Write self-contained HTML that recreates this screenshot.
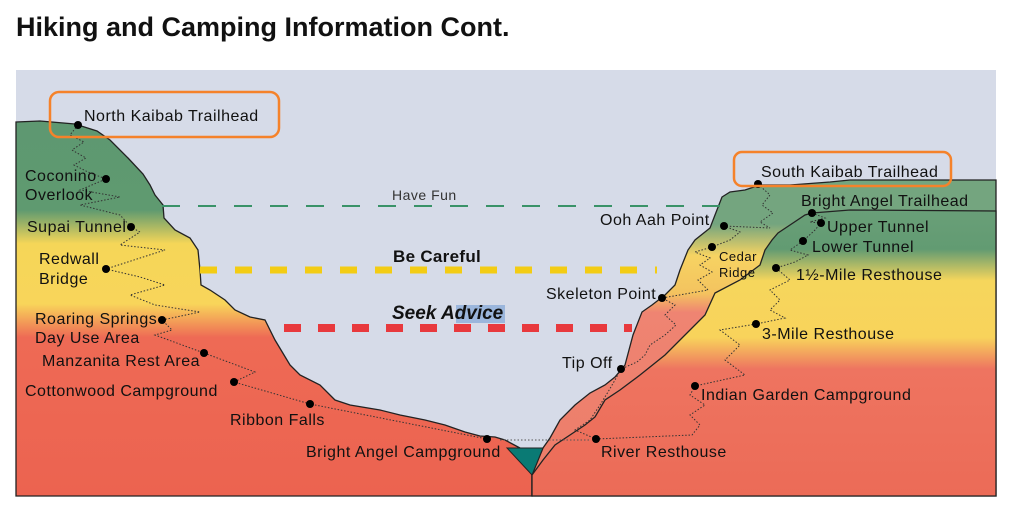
<!DOCTYPE html>
<html><head><meta charset="utf-8"><style>
body{margin:0;background:#fff;width:1024px;height:508px;overflow:hidden}
svg{display:block}
text{font-family:"Liberation Sans","DejaVu Sans",sans-serif;fill:#111;font-size:16px;letter-spacing:0.5px}
</style></head><body>
<svg width="1024" height="508" viewBox="0 0 1024 508">
<defs>
<linearGradient id="gl" gradientUnits="userSpaceOnUse" x1="0" y1="120" x2="0" y2="495">
<stop offset="0" stop-color="#5e9871"/>
<stop offset="0.24" stop-color="#5f9a70"/>
<stop offset="0.33" stop-color="#f5d658"/>
<stop offset="0.49" stop-color="#f8d55a"/>
<stop offset="0.58" stop-color="#ee6a55"/>
<stop offset="1" stop-color="#ec6350"/>
</linearGradient>
<linearGradient id="gr" gradientUnits="userSpaceOnUse" x1="0" y1="180" x2="0" y2="495">
<stop offset="0" stop-color="#6fa27d"/>
<stop offset="0.22" stop-color="#629b72"/>
<stop offset="0.32" stop-color="#f6d65c"/>
<stop offset="0.5" stop-color="#f8d35b"/>
<stop offset="0.6" stop-color="#ee7460"/>
<stop offset="1" stop-color="#ec6b57"/>
</linearGradient>
<linearGradient id="gm" gradientUnits="userSpaceOnUse" x1="0" y1="180" x2="0" y2="495">
<stop offset="0" stop-color="#74a57f"/>
<stop offset="0.14" stop-color="#74a57f"/>
<stop offset="0.24" stop-color="#f6d362"/>
<stop offset="0.36" stop-color="#f4c35f"/>
<stop offset="0.42" stop-color="#ef8472"/>
<stop offset="1" stop-color="#ec7c68"/>
</linearGradient>
</defs>
<text x="16" y="36" style="font-size:27px;font-weight:bold;letter-spacing:0">Hiking and Camping Information Cont.</text>
<rect x="16" y="70" width="980" height="426" fill="#d6dbe8"/>
<path d="M16,122 L40,121 75,124 97,131 110,140 128,158 143,174 150,185 155,195 163,205 164,218 175,230 190,238 198,250 200,270 201,285 210,290 225,300 235,310 250,317 265,320 275,340 290,365 300,375 320,385 335,400 350,405 380,410 400,415 425,420 445,425 465,432 480,436 495,437 505,440 520,448 532,475 532,496 16,496Z" fill="url(#gl)" stroke="#222" stroke-width="1.3"/>
<path d="M532,475 L543,448 550,438 560,420 575,405 590,393 605,385 615,377 625,365 633,335 642,312 652,305 665,295 675,285 680,270 688,250 695,240 710,228 715,215 722,197 730,192 745,190 760,185 790,185 830,182 850,180 996,180 996,496 532,496Z" fill="url(#gm)" stroke="#222" stroke-width="1.3"/>
<path d="M532,475 L543,460 555,445 570,435 585,425 595,417 605,400 620,390 640,375 665,355 690,330 705,315 715,293 740,280 760,265 765,250 772,240 778,233 790,225 805,215 812,213 850,210 996,211 996,496 532,496Z" fill="url(#gr)" stroke="#222" stroke-width="1.3"/>
<path d="M507,448 L543,448 532,475Z" fill="#0a7a74" stroke="#222" stroke-width="1"/>
<line x1="500" y1="440" x2="590" y2="440" stroke="#555" stroke-width="1" stroke-dasharray="1.5,2"/>
<line x1="162" y1="206" x2="720" y2="206" stroke="#3a9268" stroke-width="2" stroke-dasharray="18,18"/>
<line x1="200" y1="270" x2="657" y2="270" stroke="#f3cc14" stroke-width="7" stroke-dasharray="17,18"/>
<line x1="284" y1="328" x2="632" y2="328" stroke="#e8393d" stroke-width="8" stroke-dasharray="17,17"/>
<g fill="none" stroke="#333" stroke-width="1" stroke-dasharray="1.5,1.8">
<polyline points="78,125 70,135 84,142 72,150 86,158 74,165 88,172 106,179 80,190 120,197 80,205 120,215 131,227 140,232 120,245 165,250 106,269 140,277 165,285 130,295 155,305 200,312 162,320 172,330 155,335 204,353 255,372 234,382 310,404 487,439"/>
<polyline points="758,184 770,195 762,205 773,213 760,222 770,228 724,226 740,232 730,240 712,247 695,252 710,258 700,265 712,272 698,280 708,290 662,298 675,305 665,315 676,325 665,335 650,345 645,355 637,362 621,369 615,380 608,392 600,405 590,420 575,430 596,439"/>
<polyline points="812,213 825,218 810,222 821,223 815,230 803,241 790,250 808,255 795,262 776,268 790,280 770,290 780,300 770,310 785,318 756,324 720,330 740,345 725,360 745,375 695,386 690,395 705,405 690,415 700,425 692,435 596,439"/>
</g>
<g fill="#000">
<circle cx="78" cy="125" r="4"/><circle cx="106" cy="179" r="4"/><circle cx="131" cy="227" r="4"/><circle cx="106" cy="269" r="4"/><circle cx="162" cy="320" r="4"/><circle cx="204" cy="353" r="4"/><circle cx="234" cy="382" r="4"/><circle cx="310" cy="404" r="4"/><circle cx="487" cy="439" r="4"/>
<circle cx="758" cy="184" r="4"/><circle cx="724" cy="226" r="4"/><circle cx="712" cy="247" r="4"/><circle cx="662" cy="298" r="4"/><circle cx="621" cy="369" r="4"/><circle cx="596" cy="439" r="4"/><circle cx="812" cy="213" r="4"/><circle cx="821" cy="223" r="4"/><circle cx="803" cy="241" r="4"/><circle cx="776" cy="268" r="4"/><circle cx="756" cy="324" r="4"/><circle cx="695" cy="386" r="4"/>
</g>
<rect x="456" y="305" width="49" height="18" fill="#9bb6dc"/>
<rect x="50" y="92" width="229" height="45" rx="9" fill="none" stroke="#f5822a" stroke-width="2.5"/>
<rect x="734" y="152" width="217" height="34" rx="8" fill="none" stroke="#f5822a" stroke-width="2.5"/>
<text x="84" y="121">North Kaibab Trailhead</text>
<text x="25" y="181">Coconino</text><text x="25" y="200">Overlook</text>
<text x="27" y="232">Supai Tunnel</text>
<text x="39" y="264">Redwall</text><text x="39" y="284">Bridge</text>
<text x="35" y="324">Roaring Springs</text><text x="35" y="343">Day Use Area</text>
<text x="42" y="366">Manzanita Rest Area</text>
<text x="25" y="396">Cottonwood Campground</text>
<text x="230" y="425">Ribbon Falls</text>
<text x="306" y="457">Bright Angel Campground</text>
<text x="392" y="200" style="font-size:14px;fill:#333">Have Fun</text>
<text x="393" y="262" style="font-size:17px;font-weight:bold;letter-spacing:0.3px">Be Careful</text>
<text x="392" y="319" style="font-size:19px;font-weight:bold;font-style:italic;letter-spacing:0">Seek Advice</text>
<text x="600" y="225">Ooh Aah Point</text>
<text x="719" y="261" style="font-size:13px">Cedar</text><text x="719" y="277" style="font-size:13px">Ridge</text>
<text x="546" y="299">Skeleton Point</text>
<text x="562" y="368">Tip Off</text>
<text x="601" y="457">River Resthouse</text>
<text x="761" y="177">South Kaibab Trailhead</text>
<text x="801" y="206">Bright Angel Trailhead</text>
<text x="827" y="232">Upper Tunnel</text>
<text x="812" y="252">Lower Tunnel</text>
<text x="796" y="280">1½-Mile Resthouse</text>
<text x="762" y="339">3-Mile Resthouse</text>
<text x="701" y="400">Indian Garden Campground</text>
</svg>
</body></html>
